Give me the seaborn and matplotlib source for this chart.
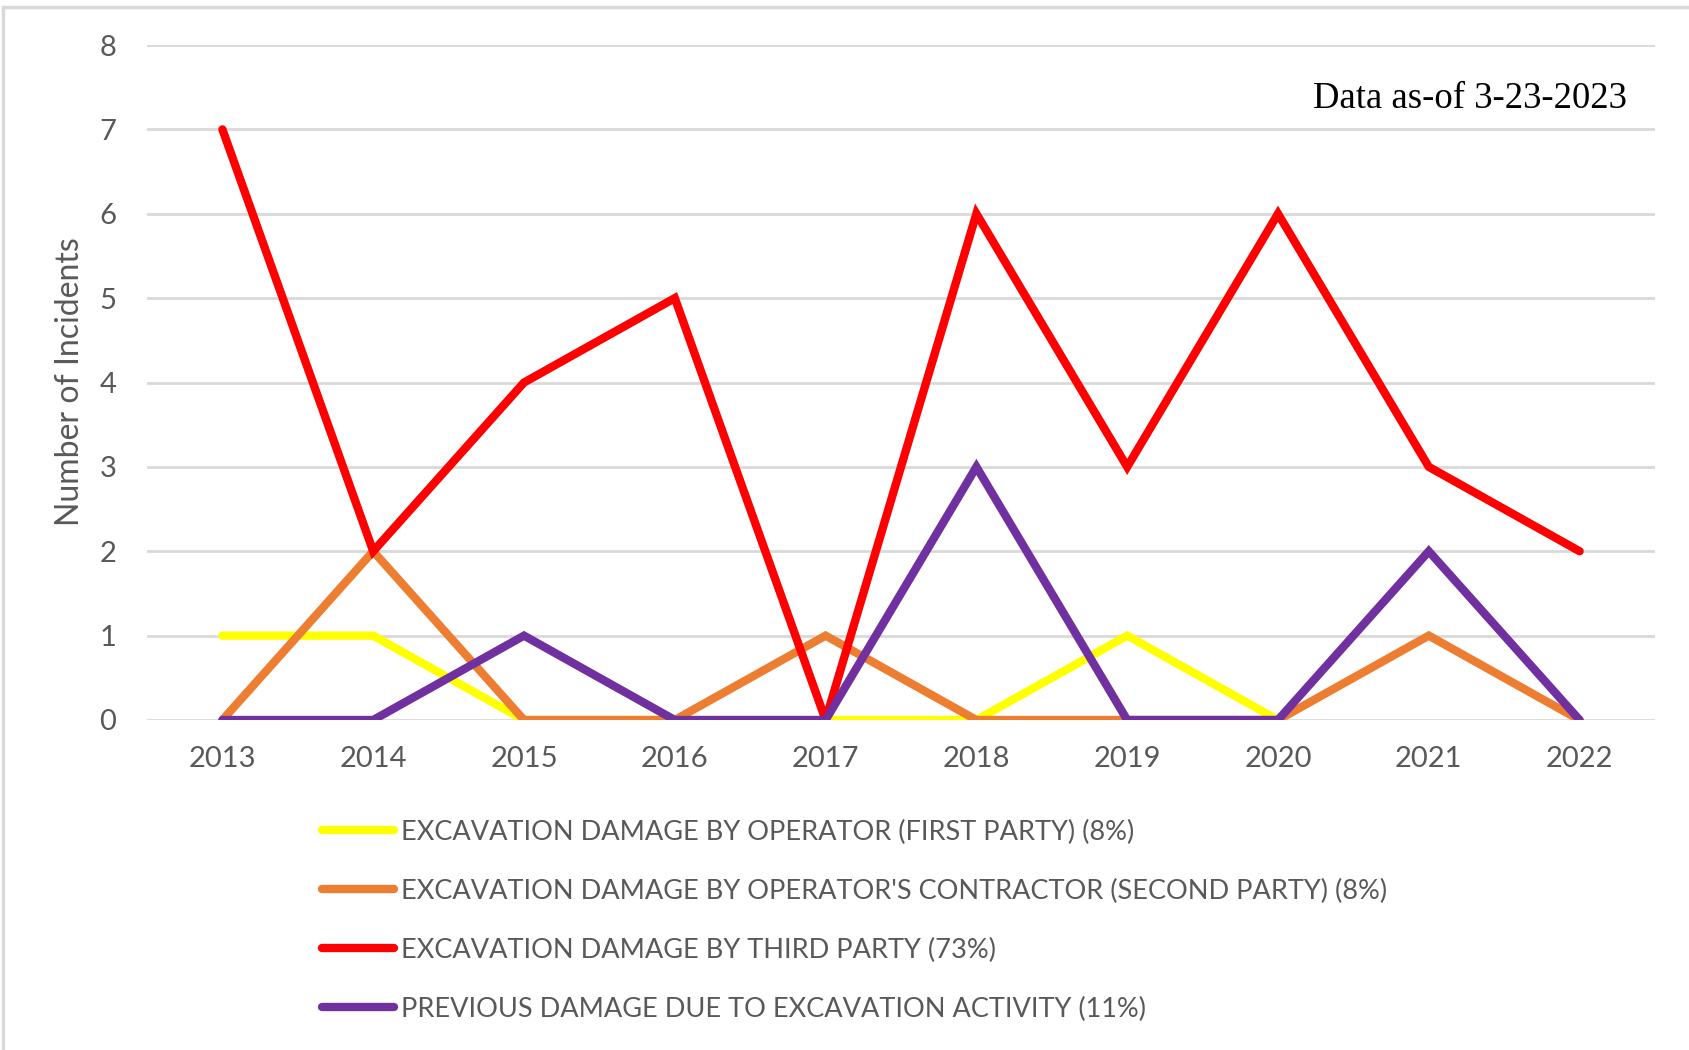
import numpy as np
import pandas as pd
import matplotlib
matplotlib.use("Agg")
import matplotlib.pyplot as plt
import seaborn as sns
from matplotlib.patches import Rectangle

years = ["2013", "2014", "2015", "2016", "2017", "2018", "2019", "2020", "2021", "2022"]
first_party = [1, 1, 0, 0, 0, 0, 1, 0, np.nan, np.nan]
second_party = [0, 2, 0, 0, 1, 0, 0, 0, 1, 0]
third_party = [7, 2, 4, 5, 0, 6, 3, 6, 3, 2]
previous_damage = [0, 0, 1, 0, 0, 3, 0, 0, 2, 0]

series_names = [
    "EXCAVATION DAMAGE BY OPERATOR (FIRST PARTY) (8%)",
    "EXCAVATION DAMAGE BY OPERATOR'S CONTRACTOR (SECOND PARTY) (8%)",
    "EXCAVATION DAMAGE BY THIRD PARTY (73%)",
    "PREVIOUS DAMAGE DUE TO EXCAVATION ACTIVITY (11%)",
]
series_values = [first_party, second_party, third_party, previous_damage]
colors = ["#FFFF00", "#ED7D31", "#FF0000", "#7030A0"]

rows = []
for name, vals in zip(series_names, series_values):
    for i, v in enumerate(vals):
        rows.append({"idx": i, "year": years[i], "value": v, "series": name})
df = pd.DataFrame(rows)

sns.set_theme(style="white")
plt.rcParams["font.family"] = ["Lato", "DejaVu Sans"]
gray = "#595959"

fig = plt.figure(figsize=(16.9, 10.5), dpi=100)
ax = fig.add_axes([147 / 1690, 1 - 720 / 1050, (1655 - 147) / 1690, (720 - 45) / 1050])

# outer border
fig.patches.append(Rectangle((3 / 1690, -0.01), 1.02, 1 - 7 / 1050 + 0.01,
                             transform=fig.transFigure, fill=False,
                             edgecolor="#d9d9d9", linewidth=2.5, zorder=0))

sns.lineplot(data=df, x="idx", y="value", hue="series", hue_order=series_names,
             palette=colors, linewidth=6, ax=ax, legend=True, sort=False,
             solid_capstyle="round", solid_joinstyle="miter")

ax.set_xlim(-0.5, 9.5)
ax.set_ylim(0, 8)
ax.set_yticks(range(0, 9))
ax.set_xticks(range(len(years)))
ax.set_xticklabels(years)
ax.yaxis.grid(True, color="#d9d9d9", linewidth=2)
ax.xaxis.grid(False)
ax.set_axisbelow(True)
for s in ax.spines.values():
    s.set_visible(False)
ax.tick_params(axis="y", length=0, pad=22, labelsize=21, labelcolor=gray)
ax.tick_params(axis="x", length=0, pad=19, labelsize=21, labelcolor=gray)
ax.set_xlabel("")
ax.set_ylabel("")

fig.text(70 / 1690, 1 - 382 / 1050, "Number of Incidents", rotation=90,
         ha="center", va="center", fontsize=23, color=gray)

fig.text(1627 / 1690, 1 - 99 / 1050, "Data as-of 3-23-2023", ha="right", va="center",
         fontsize=26.5, color="black", family="Liberation Serif")

handles, labels = ax.get_legend_handles_labels()
ax.get_legend().remove()
leg = fig.legend(handles, labels, loc="upper left",
                 bbox_to_anchor=(311 / 1690, 1 - 809 / 1050),
                 frameon=False, fontsize=19.5, handlelength=2.65,
                 handletextpad=0.28, labelspacing=1.25, borderaxespad=0)
for t in leg.get_texts():
    t.set_color(gray)
for h in leg.get_lines():
    h.set_linewidth(6)

fig.savefig("out.png", dpi=100)
